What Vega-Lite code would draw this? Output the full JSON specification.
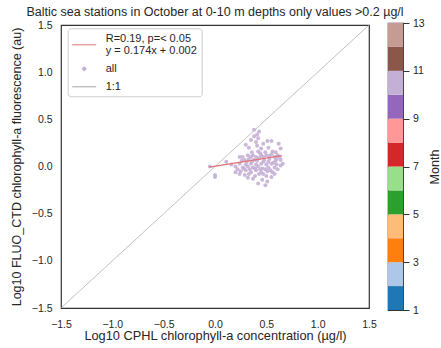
{
  "$schema": "https://vega.github.io/schema/vega-lite/v6.json",
  "padding": {"left": 10, "top": 4, "right": 0, "bottom": 5},
  "background": "white",
  "config": {
    "font": "Liberation Sans",
    "view": {"stroke": "#333333", "strokeWidth": 1.2},
    "axis": {
      "labelFont": "Liberation Sans",
      "titleFont": "Liberation Sans",
      "labelColor": "#262626",
      "titleColor": "#262626",
      "titleFontWeight": "normal",
      "grid": false,
      "domain": false
    }
  },
  "datasets": {
    "stations": [
      {"cphl": -0.05, "fluo": 0.00}, {"cphl": 0.00, "fluo": -0.09}, {"cphl": 0.00, "fluo": -0.11}, {"cphl": 0.11, "fluo": 0.05},
      {"cphl": 0.38, "fluo": 0.39}, {"cphl": 0.43, "fluo": 0.37}, {"cphl": 0.41, "fluo": 0.34}, {"cphl": 0.38, "fluo": 0.32},
      {"cphl": 0.42, "fluo": 0.30}, {"cphl": 0.35, "fluo": 0.28}, {"cphl": 0.40, "fluo": 0.26}, {"cphl": 0.30, "fluo": 0.23},
      {"cphl": 0.51, "fluo": 0.27}, {"cphl": 0.55, "fluo": 0.27}, {"cphl": 0.62, "fluo": 0.24}, {"cphl": 0.33, "fluo": 0.20},
      {"cphl": 0.45, "fluo": 0.19}, {"cphl": 0.52, "fluo": 0.20}, {"cphl": 0.64, "fluo": 0.19}, {"cphl": 0.42, "fluo": 0.16},
      {"cphl": 0.56, "fluo": 0.16}, {"cphl": 0.59, "fluo": 0.15}, {"cphl": 0.24, "fluo": 0.10}, {"cphl": 0.27, "fluo": 0.10},
      {"cphl": 0.32, "fluo": 0.12}, {"cphl": 0.37, "fluo": 0.12}, {"cphl": 0.40, "fluo": 0.10}, {"cphl": 0.45, "fluo": 0.12},
      {"cphl": 0.50, "fluo": 0.12}, {"cphl": 0.55, "fluo": 0.13}, {"cphl": 0.58, "fluo": 0.10}, {"cphl": 0.63, "fluo": 0.10},
      {"cphl": 0.29, "fluo": 0.07}, {"cphl": 0.33, "fluo": 0.08}, {"cphl": 0.38, "fluo": 0.07}, {"cphl": 0.43, "fluo": 0.09},
      {"cphl": 0.48, "fluo": 0.07}, {"cphl": 0.53, "fluo": 0.08}, {"cphl": 0.59, "fluo": 0.06}, {"cphl": 0.64, "fluo": 0.07},
      {"cphl": 0.24, "fluo": 0.03}, {"cphl": 0.30, "fluo": 0.02}, {"cphl": 0.35, "fluo": 0.03}, {"cphl": 0.40, "fluo": 0.02},
      {"cphl": 0.45, "fluo": 0.03}, {"cphl": 0.50, "fluo": 0.02}, {"cphl": 0.55, "fluo": 0.03}, {"cphl": 0.60, "fluo": 0.02},
      {"cphl": 0.20, "fluo": 0.00}, {"cphl": 0.27, "fluo": -0.01}, {"cphl": 0.32, "fluo": 0.00}, {"cphl": 0.37, "fluo": -0.01},
      {"cphl": 0.42, "fluo": 0.00}, {"cphl": 0.46, "fluo": -0.02}, {"cphl": 0.52, "fluo": -0.01}, {"cphl": 0.58, "fluo": -0.01},
      {"cphl": 0.64, "fluo": 0.01}, {"cphl": 0.25, "fluo": -0.05}, {"cphl": 0.30, "fluo": -0.04}, {"cphl": 0.35, "fluo": -0.06},
      {"cphl": 0.40, "fluo": -0.04}, {"cphl": 0.45, "fluo": -0.06}, {"cphl": 0.51, "fluo": -0.05}, {"cphl": 0.56, "fluo": -0.06},
      {"cphl": 0.20, "fluo": -0.06}, {"cphl": 0.24, "fluo": -0.08}, {"cphl": 0.29, "fluo": -0.09}, {"cphl": 0.33, "fluo": -0.08},
      {"cphl": 0.39, "fluo": -0.10}, {"cphl": 0.43, "fluo": -0.08}, {"cphl": 0.50, "fluo": -0.10}, {"cphl": 0.55, "fluo": -0.11},
      {"cphl": 0.37, "fluo": -0.13}, {"cphl": 0.46, "fluo": -0.14}, {"cphl": 0.42, "fluo": -0.18}, {"cphl": 0.49, "fluo": -0.20},
      {"cphl": 0.51, "fluo": -0.16}, {"cphl": 0.26, "fluo": 0.06}, {"cphl": 0.31, "fluo": 0.05}, {"cphl": 0.36, "fluo": 0.05},
      {"cphl": 0.41, "fluo": 0.06}, {"cphl": 0.47, "fluo": 0.05}, {"cphl": 0.52, "fluo": 0.05}, {"cphl": 0.57, "fluo": 0.04},
      {"cphl": 0.28, "fluo": -0.02}, {"cphl": 0.34, "fluo": -0.03}, {"cphl": 0.39, "fluo": -0.02}, {"cphl": 0.44, "fluo": -0.03},
      {"cphl": 0.49, "fluo": -0.03}, {"cphl": 0.54, "fluo": -0.04}, {"cphl": 0.61, "fluo": -0.03}, {"cphl": 0.35, "fluo": 0.10},
      {"cphl": 0.47, "fluo": 0.10}, {"cphl": 0.53, "fluo": 0.11}, {"cphl": 0.61, "fluo": 0.12}, {"cphl": 0.44, "fluo": 0.14},
      {"cphl": 0.36, "fluo": 0.15}, {"cphl": 0.49, "fluo": 0.15}, {"cphl": 0.22, "fluo": -0.03}, {"cphl": 0.16, "fluo": 0.02},
      {"cphl": 0.60, "fluo": 0.08}, {"cphl": 0.66, "fluo": 0.03}, {"cphl": 0.47, "fluo": -0.08}, {"cphl": 0.32, "fluo": -0.12},
      {"cphl": 0.58, "fluo": -0.08}, {"cphl": 0.41, "fluo": 0.22}, {"cphl": 0.47, "fluo": 0.24}
    ],
    "fit": [
      {"cphl": -0.055, "fluo": -0.0076},
      {"cphl": 0.65, "fluo": 0.1151}
    ],
    "identity": [
      {"cphl": -1.5, "fluo": -1.5},
      {"cphl": 1.5, "fluo": 1.5}
    ],
    "months": [
      {"month": 1, "next": 2}, {"month": 2, "next": 3}, {"month": 3, "next": 4}, {"month": 4, "next": 5},
      {"month": 5, "next": 6}, {"month": 6, "next": 7}, {"month": 7, "next": 8}, {"month": 8, "next": 9},
      {"month": 9, "next": 10}, {"month": 10, "next": 11}, {"month": 11, "next": 12}, {"month": 12, "next": 13}
    ]
  },
  "bounds": "flush",
  "center": true,
  "spacing": 19,
  "resolve": {"scale": {"color": "independent"}, "legend": {"color": "independent"}},
  "hconcat": [
    {
      "width": 308,
      "height": 283,
      "title": {
        "text": "Baltic sea stations in October at 0-10 m depths only values >0.2 µg/l",
        "font": "Liberation Sans",
        "fontSize": 12.5,
        "fontWeight": "normal",
        "color": "#262626",
        "offset": 2
      },
      "encoding": {
        "x": {
          "field": "cphl",
          "type": "quantitative",
          "scale": {"domain": [-1.5, 1.5], "nice": false, "zero": false},
          "axis": {
            "title": "Log10 CPHL chlorophyll-a concentration (µg/l)",
            "values": [-1.5, -1, -0.5, 0, 0.5, 1, 1.5],
            "format": ".1f",
            "ticks": false,
            "tickSize": 0,
            "labelPadding": 11,
            "labelFontSize": 10.5,
            "labelFlush": false,
            "labelOverlap": false,
            "titleFontSize": 12.8,
            "titlePadding": 0
          }
        },
        "y": {
          "field": "fluo",
          "type": "quantitative",
          "scale": {"domain": [-1.5, 1.5], "nice": false, "zero": false},
          "axis": {
            "title": "Log10 FLUO_CTD chlorophyll-a fluorescence (au)",
            "values": [-1.5, -1, -0.5, 0, 0.5, 1, 1.5],
            "format": ".1f",
            "ticks": false,
            "tickSize": 0,
            "labelPadding": 9,
            "labelFontSize": 10.5,
            "labelFlush": false,
            "labelOverlap": false,
            "titleFontSize": 12.5,
            "titlePadding": 7.5
          }
        }
      },
      "layer": [
        {
          "data": {"name": "identity"},
          "mark": {"type": "line", "strokeWidth": 0.7},
          "encoding": {
            "color": {
              "datum": "1:1",
              "type": "nominal",
              "scale": {"domain": ["fit", "all", "1:1"], "range": ["#e07474", "#c5b0d5", "#a6a6a6"]},
              "legend": {
                "orient": "none",
                "legendX": 6.7,
                "legendY": 3.3,
                "title": null,
                "padding": 4,
                "strokeColor": "#cccccc",
                "fillColor": "white",
                "cornerRadius": 3,
                "symbolSize": 576,
                "symbolStrokeWidth": 1,
                "labelFont": "Liberation Sans",
                "labelFontSize": 11,
                "labelColor": "#262626",
                "labelOffset": 9,
                "rowPadding": -1,
                "labelExpr": "datum.value === 'fit' ? ['R=0.19, p=< 0.05', 'y = 0.174x + 0.002'] : datum.label",
                "encode": {
                  "symbols": {
                    "update": {
                      "shape": {"signal": "datum.value === 'all' ? 'M-0.15,0A0.15,0.15 0 1,0 0.15,0A0.15,0.15 0 1,0 -0.15,0Z' : 'stroke'"},
                      "fill": {"signal": "datum.value === 'all' ? '#c5b0d5' : 'transparent'"},
                      "stroke": {"signal": "datum.value === 'fit' ? '#e07474' : (datum.value === '1:1' ? '#a6a6a6' : 'transparent')"},
                      "opacity": {"value": 1}
                    }
                  },
                  "labels": {
                    "update": {
                      "lineHeight": {"value": 11.7},
                      "dy": {"signal": "datum.value === 'fit' ? -5.85 : 0"}
                    }
                  }
                }
              }
            }
          }
        },
        {
          "data": {"name": "stations"},
          "mark": {"type": "circle", "size": 16, "opacity": 0.9},
          "encoding": {
            "color": {"datum": "all", "type": "nominal"}
          }
        },
        {
          "data": {"name": "fit"},
          "mark": {"type": "line", "strokeWidth": 1.3},
          "encoding": {
            "color": {"datum": "fit", "type": "nominal"}
          }
        }
      ]
    },
    {
      "width": 15,
      "height": 287,
      "data": {"name": "months"},
      "mark": {"type": "rect"},
      "encoding": {
        "x": {"value": 0},
        "x2": {"value": "width"},
        "y": {
          "field": "month",
          "type": "quantitative",
          "scale": {"domain": [1, 13], "nice": false, "zero": false},
          "axis": {
            "orient": "right",
            "title": "Month",
            "values": [1, 3, 5, 7, 9, 11, 13],
            "format": "d",
            "ticks": true,
            "tickSize": 6,
            "tickColor": "#333333",
            "tickWidth": 1,
            "labelPadding": 3.5,
            "labelFontSize": 10.5,
            "labelFlush": false,
            "labelOverlap": false,
            "titleFontSize": 12.5,
            "titleAngle": 270,
            "titleBaseline": "top",
            "titlePadding": 4
          }
        },
        "y2": {"field": "next"},
        "color": {
          "field": "month",
          "type": "ordinal",
          "scale": {
            "domain": [1, 2, 3, 4, 5, 6, 7, 8, 9, 10, 11, 12],
            "range": ["#1f77b4", "#aec7e8", "#ff7f0e", "#ffbb78", "#2ca02c", "#98df8a", "#d62728", "#ff9896", "#9467bd", "#c5b0d5", "#8c564b", "#c49c94"]
          },
          "legend": null
        }
      }
    }
  ]
}
